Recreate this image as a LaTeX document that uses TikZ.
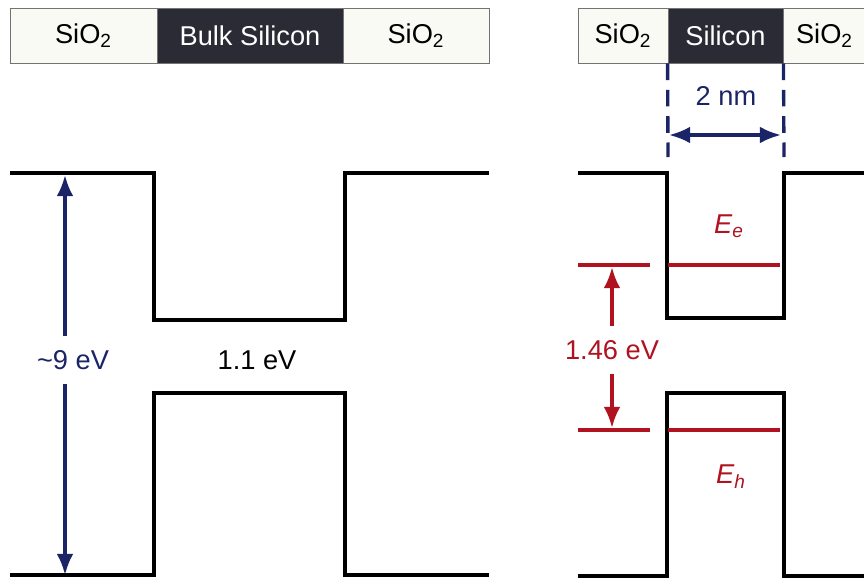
\documentclass[tikz,border=0pt]{standalone}
\usepackage{fontspec}
\setmainfont{Liberation Sans}
\usetikzlibrary{arrows.meta,positioning}

\definecolor{gapblue}{HTML}{1A2466}
\definecolor{levelred}{HTML}{B0121F}
\definecolor{layerdark}{HTML}{2B2B36}
\definecolor{layerlight}{HTML}{FAFAF4}

\begin{document}
\begin{tikzpicture}[x=0.02cm, y=-0.02cm, >={Latex[length=12pt,width=9.5pt]}]

\tikzset{
  layer/.style={
    rectangle, draw=black!55, line width=0.5pt,
    inner sep=0pt, minimum height=1.1cm,
    font=\fontsize{15.5}{18}\selectfont
  },
  oxide/.style={layer, fill=layerlight, text=black},
  silicon/.style={layer, fill=layerdark, text=white},
  label/.style={inner sep=1pt, font=\fontsize{15.5}{18}\selectfont},
  band/.style={line width=2.4pt, line join=miter},
  level/.style={line width=1.9pt, draw=levelred},
  bluearrow/.style={->, line width=1.9pt, draw=gapblue},
  redarrow/.style={->, line width=2pt, draw=levelred},
  dashline/.style={line width=1.9pt, draw=gapblue, dash pattern=on 9.5pt off 5.5pt}
}

\useasboundingbox (0,0) rectangle (864,578);

% =========================================================
% Left: bulk silicon between oxide layers
% =========================================================
\node[oxide, minimum width=2.94cm] (oxL1) at (83.5,35.5) {SiO\textsubscript{2}};
\node[silicon, minimum width=3.72cm] (bulk) at (250,35.5) {Bulk Silicon};
\node[oxide, minimum width=2.92cm] (oxR1) at (416,35.5) {SiO\textsubscript{2}};

\draw[band] (10,173) -- (154,173) -- (154,320) -- (345,320) -- (345,173) -- (489,173);
\draw[band] (10,575) -- (154,575) -- (154,393) -- (345,393) -- (345,575) -- (489,575);

\node[label, text=gapblue] (gap9) at (73,360) {\textasciitilde 9 eV};
\node[label] (gap11) at (257,360) {1.1 eV};

\coordinate (cbL) at (65,175);
\coordinate (vbL) at (65,575);
\draw[bluearrow] (gap9.north -| cbL) ++(0,-12) -- (cbL);
\draw[bluearrow] (gap9.south -| vbL) ++(0,12) -- (vbL);

% =========================================================
% Right: 2 nm silicon well with confined levels
% =========================================================
\node[oxide, minimum width=1.8cm] (oxL2) at (623,35.5) {SiO\textsubscript{2}};
\node[silicon, minimum width=2.3cm] (well) at (725.5,35.5) {Silicon};
\node[oxide, minimum width=1.66cm] (oxR2) at (824.5,35.5) {SiO\textsubscript{2}};

\coordinate (dimL) at (668,157);
\coordinate (dimR) at (784,157);
\draw[dashline] (well.south west) -- (dimL);
\draw[dashline] (well.south east) -- (dimR);

\node[label, text=gapblue] (width) at (726,96) {2 nm};
\draw[<->, line width=1.9pt, draw=gapblue] (669,135) -- (781,135);

\draw[band] (578,173) -- (667,173) -- (667,318) -- (784,318) -- (784,173) -- (870,173);
\draw[band] (578,576) -- (667,576) -- (667,393) -- (784,393) -- (784,576) -- (870,576);

% confined levels
\draw[level] (578,265) -- (650,265);
\draw[level] (668,265) -- (780,265);
\draw[level] (578,430) -- (650,430);
\draw[level] (668,430) -- (780,430);

\node[label, text=levelred] (Ee) at (729,226) {\textit{E}\textsubscript{\textit{e}}};
\node[label, text=levelred] (Eh) at (731,477) {\textit{E}\textsubscript{\textit{h}}};
\node[label, text=levelred] (gap146) at (612,350) {1.46 eV};

\coordinate (Eeup) at (612,267);
\coordinate (Ehdn) at (612,428);
\draw[redarrow] (gap146.north -| Eeup) ++(0,-12) -- (Eeup);
\draw[redarrow] (gap146.south -| Ehdn) ++(0,12) -- (Ehdn);

\end{tikzpicture}
\end{document}
